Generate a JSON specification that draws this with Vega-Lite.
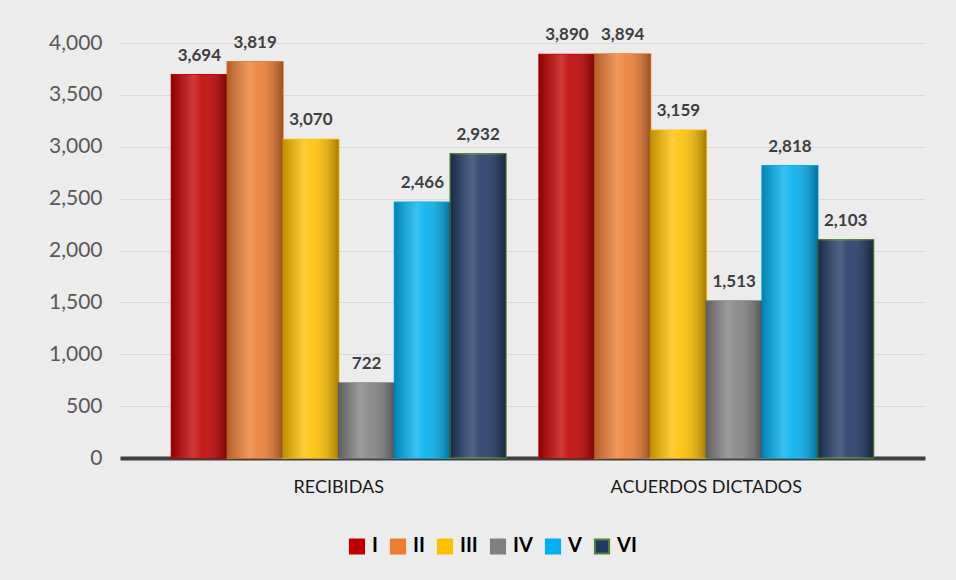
{
  "$schema": "https://vega.github.io/schema/vega-lite/v6.json",
  "width": 805,
  "height": 415,
  "autosize": {"type": "none"},
  "padding": {"left": 120, "top": 43, "right": 31, "bottom": 122},
  "background": "#ececec",
  "config": {"view": {"stroke": null}, "font": "Lato"},
  "data": {
    "values": [
      {"categoria": "RECIBIDAS", "serie": "I", "valor": 3694},
      {"categoria": "RECIBIDAS", "serie": "II", "valor": 3819},
      {"categoria": "RECIBIDAS", "serie": "III", "valor": 3070},
      {"categoria": "RECIBIDAS", "serie": "IV", "valor": 722},
      {"categoria": "RECIBIDAS", "serie": "V", "valor": 2466},
      {"categoria": "RECIBIDAS", "serie": "VI", "valor": 2932},
      {"categoria": "ACUERDOS DICTADOS", "serie": "I", "valor": 3890},
      {"categoria": "ACUERDOS DICTADOS", "serie": "II", "valor": 3894},
      {"categoria": "ACUERDOS DICTADOS", "serie": "III", "valor": 3159},
      {"categoria": "ACUERDOS DICTADOS", "serie": "IV", "valor": 1513},
      {"categoria": "ACUERDOS DICTADOS", "serie": "V", "valor": 2818},
      {"categoria": "ACUERDOS DICTADOS", "serie": "VI", "valor": 2103}
    ]
  },
  "encoding": {
    "x": {
      "field": "categoria",
      "type": "nominal",
      "sort": ["RECIBIDAS", "ACUERDOS DICTADOS"],
      "scale": {"paddingInner": 0.09, "paddingOuter": 0.14},
      "axis": {
        "title": null,
        "labelAngle": 0,
        "labelFontSize": 18,
        "labelColor": "#1a1a1a",
        "labelPadding": 20,
        "labelLimit": 400,
        "ticks": false,
        "domain": true,
        "domainColor": "#3f3f3f",
        "domainWidth": 4,
        "grid": false
      }
    },
    "xOffset": {
      "field": "serie",
      "type": "nominal",
      "sort": ["I", "II", "III", "IV", "V", "VI"],
      "scale": {"paddingInner": 0, "paddingOuter": 0}
    },
    "y": {
      "field": "valor",
      "type": "quantitative",
      "scale": {"domain": [0, 4000]},
      "axis": {
        "title": null,
        "values": [0, 500, 1000, 1500, 2000, 2500, 3000, 3500, 4000],
        "format": ",d",
        "labelFontSize": 21,
        "labelColor": "#595959",
        "labelPadding": 18,
        "ticks": false,
        "domain": false,
        "gridColor": "#dadada",
        "gridWidth": 1
      }
    }
  },
  "layer": [
    {
      "mark": {"type": "bar", "strokeWidth": 1.5},
      "encoding": {
        "color": {
          "field": "serie",
          "type": "nominal",
          "sort": ["I", "II", "III", "IV", "V", "VI"],
          "scale": {
            "domain": ["I", "II", "III", "IV", "V", "VI"],
            "range": ["#C00000", "#ED7D31", "#FFC000", "#808080", "#00B0F0", "#1F3864"]
          },
          "legend": {
            "title": null,
            "orient": "none",
            "direction": "horizontal",
            "legendX": 227,
            "legendY": 493,
            "symbolType": "square",
            "symbolSize": 200,
            "symbolStrokeWidth": 2,
            "labelFontSize": 20,
            "labelFontWeight": "bold",
            "labelColor": "#000000",
            "labelOffset": 5,
            "columnPadding": 8
          }
        },
        "stroke": {
          "field": "serie",
          "type": "nominal",
          "sort": ["I", "II", "III", "IV", "V", "VI"],
          "scale": {
            "domain": ["I", "II", "III", "IV", "V", "VI"],
            "range": ["#C00000", "#ED7D31", "#FFC000", "#808080", "#00B0F0", "#548235"]
          },
          "legend": {
            "title": null,
            "orient": "none",
            "direction": "horizontal",
            "legendX": 227,
            "legendY": 493,
            "symbolType": "square",
            "symbolSize": 200,
            "symbolStrokeWidth": 2,
            "labelFontSize": 20,
            "labelFontWeight": "bold",
            "labelColor": "#000000",
            "labelOffset": 5,
            "columnPadding": 8
          }
        }
      }
    },
    {
      "mark": {
        "type": "bar",
        "color": {
          "gradient": "linear",
          "x1": 0, "x2": 1, "y1": 0, "y2": 0,
          "stops": [
            {"offset": 0, "color": "rgba(0,0,0,0.25)"},
            {"offset": 0.4, "color": "rgba(255,255,255,0.22)"},
            {"offset": 0.55, "color": "rgba(255,255,255,0.1)"},
            {"offset": 1, "color": "rgba(0,0,0,0.35)"}
          ]
        }
      }
    },
    {
      "mark": {"type": "text", "baseline": "bottom", "dy": -10, "fontSize": 17, "fontWeight": "bold", "color": "#404040"},
      "encoding": {
        "text": {"field": "valor", "type": "quantitative", "format": ","}
      }
    }
  ]
}
